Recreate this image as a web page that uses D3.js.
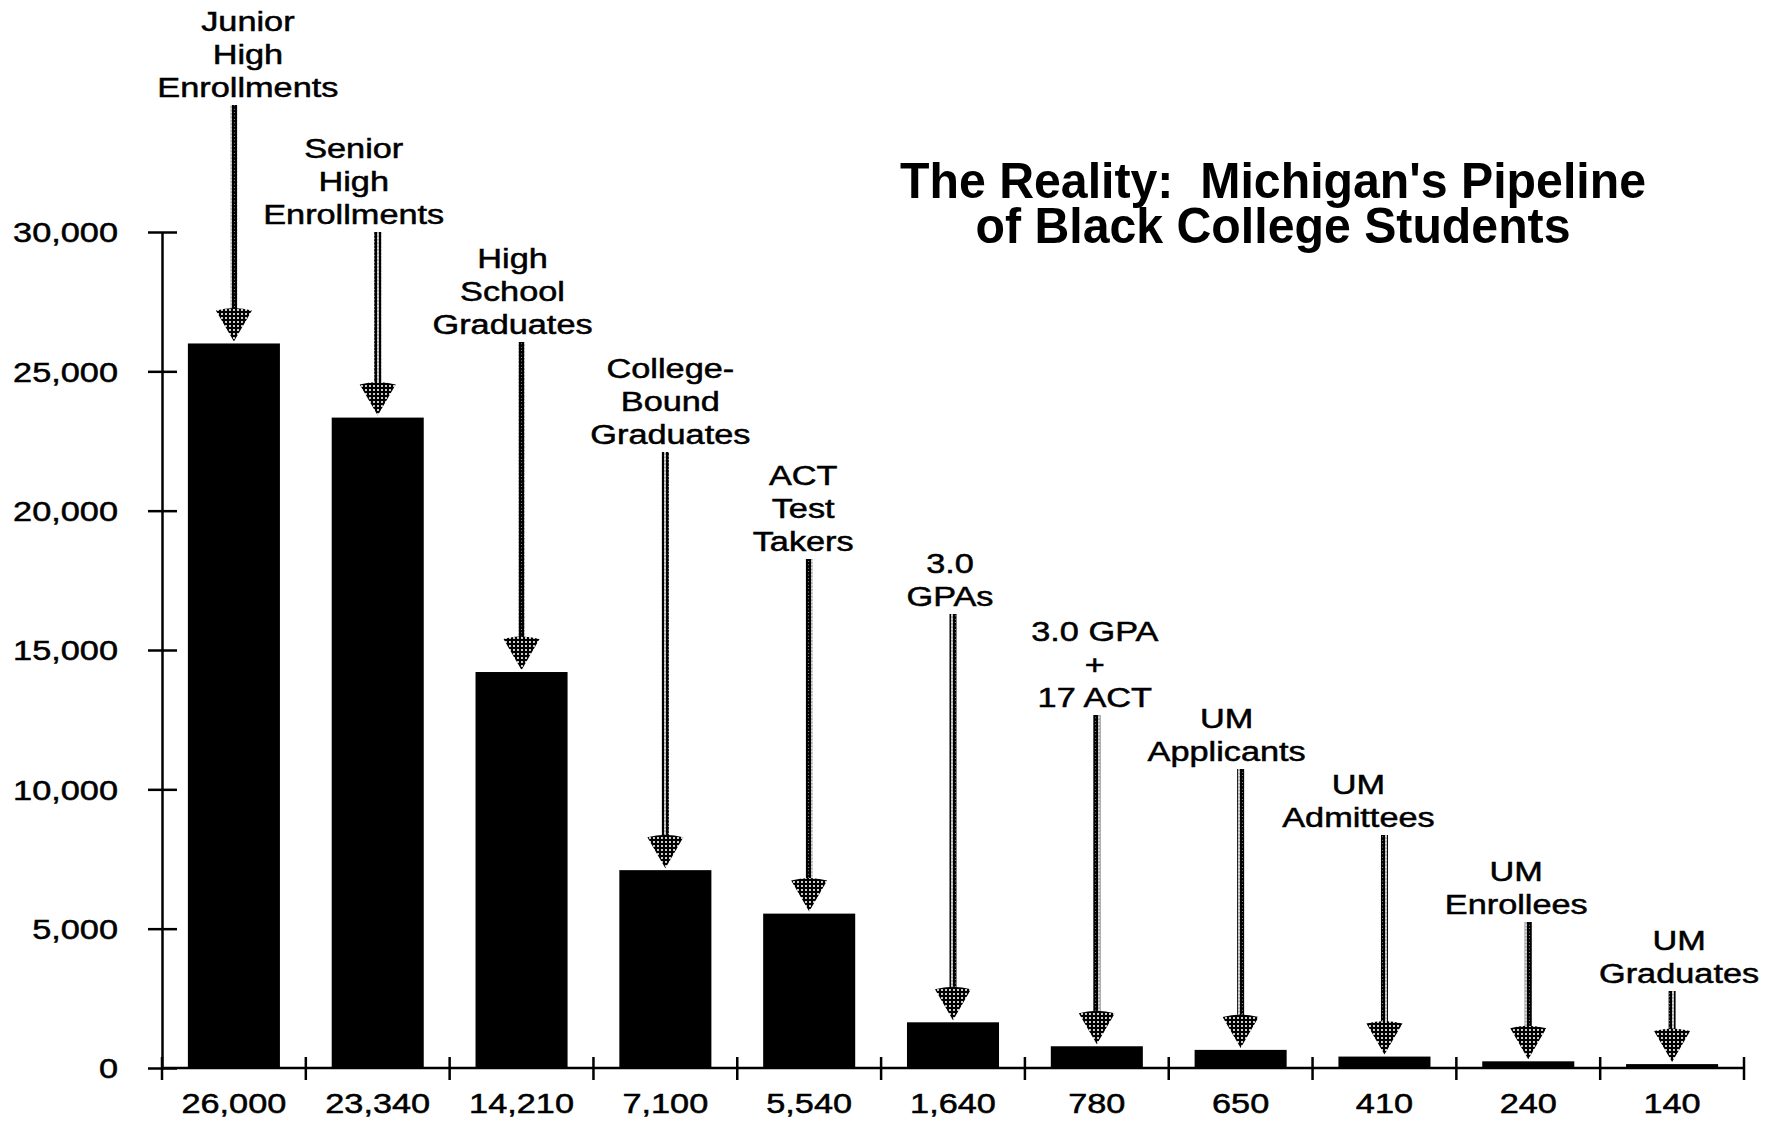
<!DOCTYPE html>
<html>
<head>
<meta charset="utf-8">
<script src="https://cdn.jsdelivr.net/npm/d3@7"></script>
<style>
  body { margin: 0; background: #fff; }
  text { font-family: "Liberation Sans", Arial, sans-serif; fill: #000; }
</style>
</head>
<body>
<div id="chart"></div>
<script>
// pipeline stages, counts and axis ticks
var categories = [
  ["Junior", "High", "Enrollments"],
  ["Senior", "High", "Enrollments"],
  ["High", "School", "Graduates"],
  ["College-", "Bound", "Graduates"],
  ["ACT", "Test", "Takers"],
  ["3.0", "GPAs"],
  ["3.0 GPA", "+", "17 ACT"],
  ["UM", "Applicants"],
  ["UM", "Admittees"],
  ["UM", "Enrollees"],
  ["UM", "Graduates"]
];
var values = [26000, 23340, 14210, 7100, 5540, 1640, 780, 650, 410, 240, 140];
var yTicks = [0, 5000, 10000, 15000, 20000, 25000, 30000];
var titleLines = ["The Reality:\u00A0\u00A0Michigan's Pipeline", "of Black College Students"];

// layout of the stage labels (first line centre, offset from bar centre)
var labelTop = [21, 148, 258, 368, 475, 563, 631, 718, 784, 871, 940];
var labelDx = [14, -24, -9, 5, -6, -3, -2, -14, -26, -12, 7];

var svgWidth = 1774;
var svgHeight = 1122;
var stretch = 1.27;   // scanned type is wider than Helvetica

var svg = d3.select("#chart")
  .append("svg")
  .attr("width", svgWidth)
  .attr("height", svgHeight);

var defs = svg.append("defs");
var dots = defs.append("pattern")
  .attr("id", "stipple")
  .attr("width", 4).attr("height", 4)
  .attr("patternUnits", "userSpaceOnUse");
dots.append("rect").attr("width", 4).attr("height", 4).attr("fill", "#000");
dots.append("circle").attr("cx", 2).attr("cy", 2).attr("r", 1.05).attr("fill", "#fff");

var beads = defs.append("pattern")
  .attr("id", "beads")
  .attr("width", 7).attr("height", 3.4)
  .attr("patternUnits", "userSpaceOnUse");
beads.append("circle").attr("cx", 3.5).attr("cy", 1.7).attr("r", 2.9).attr("fill", "#000");
beads.append("circle").attr("cx", 3.5).attr("cy", 0).attr("r", 0.6).attr("fill", "#fff");

function widen(sel, k) {
  sel.each(function() {
    var w = this.getComputedTextLength();
    d3.select(this).attr("textLength", w * k).attr("lengthAdjust", "spacingAndGlyphs");
  });
}

// scales
var xScale = d3.scaleBand()
  .domain(d3.range(values.length))
  .range([162, 1744])
  .paddingInner(0.36)
  .paddingOuter(0.18);

var yScale = d3.scaleLinear()
  .domain([0, 30000])
  .range([1068, 232]);

// y axis
var yAxis = svg.append("g")
  .attr("transform", "translate(162,0)")
  .call(d3.axisLeft(yScale).tickValues(yTicks).tickFormat(d3.format(","))
    .tickSize(14).tickSizeOuter(0).tickPadding(30));
yAxis.select(".domain").attr("stroke", "#000").attr("stroke-width", 2.5);
yAxis.selectAll(".tick line").attr("x1", 15).attr("x2", -14)
  .attr("stroke", "#000").attr("stroke-width", 2.5);
yAxis.selectAll(".tick text")
  .attr("font-size", 27)
  .attr("font-family", "Liberation Sans, Arial, sans-serif")
  .attr("fill", "#000")
  .attr("stroke", "#000").attr("stroke-width", 0.5)
  .attr("dy", "0.36em")
  .call(widen, stretch);

// bars
svg.selectAll(".bar")
  .data(values)
  .enter()
  .append("rect")
  .attr("class", "bar")
  .attr("x", (d, i) => xScale(i))
  .attr("y", d => yScale(d))
  .attr("width", xScale.bandwidth())
  .attr("height", d => yScale(0) - yScale(d))
  .attr("fill", "#000");

// x axis line and tick marks at band edges
var x0 = xScale.range()[0];
svg.append("line")
  .attr("x1", x0).attr("x2", xScale.range()[1])
  .attr("y1", yScale(0)).attr("y2", yScale(0))
  .attr("stroke", "#000").attr("stroke-width", 2.5);
svg.selectAll(".xtick")
  .data(d3.range(values.length + 1))
  .enter()
  .append("line")
  .attr("class", "xtick")
  .attr("x1", i => x0 + i * xScale.step())
  .attr("x2", i => x0 + i * xScale.step())
  .attr("y1", yScale(0) - 11)
  .attr("y2", yScale(0) + 12)
  .attr("stroke", "#000").attr("stroke-width", 2.5);

// value labels under the axis
svg.selectAll(".vlabel")
  .data(values)
  .enter()
  .append("text")
  .attr("class", "vlabel")
  .attr("x", (d, i) => xScale(i) + xScale.bandwidth() / 2)
  .attr("y", 1113)
  .attr("text-anchor", "middle")
  .attr("font-size", 27)
  .attr("stroke", "#000").attr("stroke-width", 0.5)
  .text(d => d3.format(",")(d))
  .call(widen, stretch);

// stage labels with stippled arrows
var lineGap = 33;
categories.forEach(function(lines, i) {
  var cx = xScale(i) + xScale.bandwidth() / 2;
  var g = svg.append("g");
  g.selectAll("text")
    .data(lines)
    .enter()
    .append("text")
    .attr("x", cx + labelDx[i])
    .attr("y", (d, j) => labelTop[i] + j * lineGap + 10)
    .attr("text-anchor", "middle")
    .attr("font-size", 27)
    .attr("stroke", "#000").attr("stroke-width", 0.5)
    .text(d => d)
    .call(widen, stretch);

  var tip = yScale(values[i]) - 2;
  var shaftTop = labelTop[i] + (lines.length - 1) * lineGap + 18;
  g.append("rect")
    .attr("x", cx - 3.5)
    .attr("y", shaftTop)
    .attr("width", 7)
    .attr("height", tip - 28 - shaftTop)
    .attr("fill", "url(#beads)");
  g.append("path")
    .attr("d", "M" + (cx - 18) + "," + (tip - 31) +
      " Q" + cx + "," + (tip - 36) + " " + (cx + 18) + "," + (tip - 31) +
      " L" + cx + "," + tip + " Z")
    .attr("fill", "url(#stipple)");
});

// title
svg.selectAll(".title")
  .data(titleLines)
  .enter()
  .append("text")
  .attr("class", "title")
  .attr("x", 1273)
  .attr("y", (d, i) => 198 + i * 45)
  .attr("text-anchor", "middle")
  .attr("font-size", 50)
  .attr("font-weight", "bold")
  .attr("textLength", (d, i) => i === 0 ? 746 : 595)
  .attr("lengthAdjust", "spacingAndGlyphs")
  .text(d => d);
</script>
</body>
</html>
